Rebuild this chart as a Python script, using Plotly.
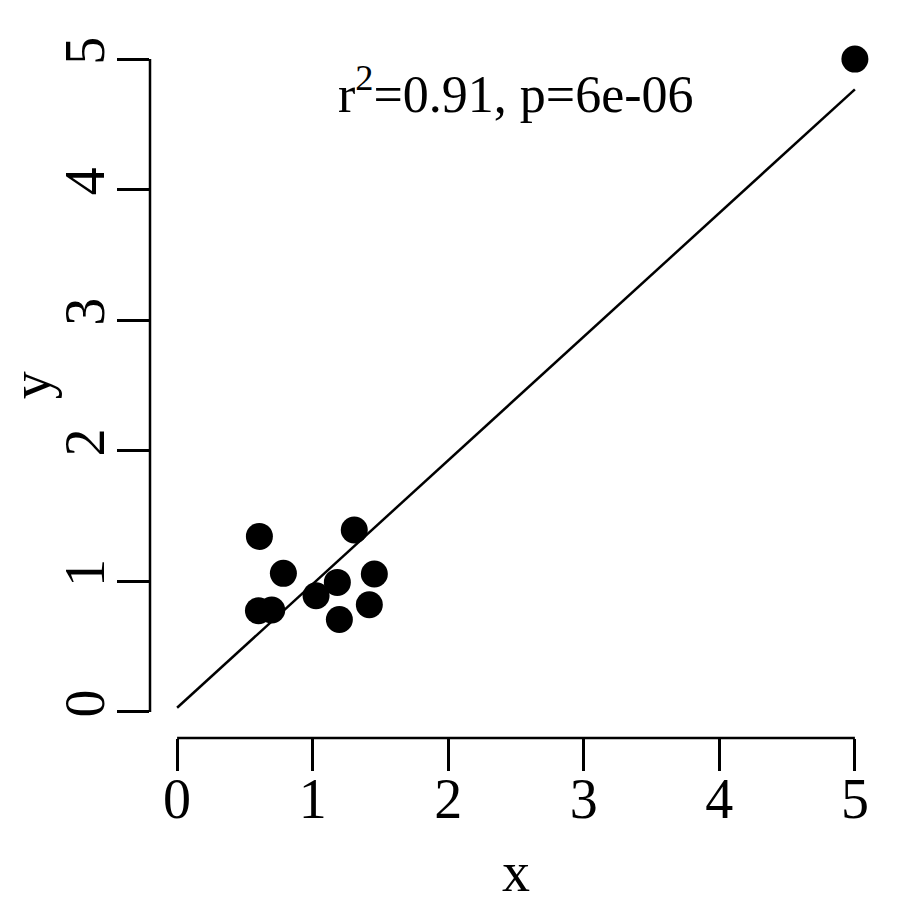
import numpy as np
import plotly.graph_objects as go

# Data
x_vals = [0.607, 0.784, 1.307, 1.455, 1.182, 1.025, 0.600, 0.698, 1.197, 1.418, 5.0]
y_vals = [1.344, 1.061, 1.393, 1.056, 0.992, 0.890, 0.775, 0.780, 0.708, 0.821, 5.0]
tick_vals = [0, 1, 2, 3, 4, 5]
annot_text = "r<sup>2</sup>=0.91, p=6e-06"
x_title = "x"
y_title = "y"

x = np.array(x_vals)
y = np.array(y_vals)
slope, intercept = np.polyfit(x, y, 1)
line_x = np.array([0, x.max()])
line_y = intercept + slope * line_x

FONT = "Liberation Serif"
FS = 56

fig = go.Figure()
fig.add_trace(go.Scatter(x=line_x, y=line_y, mode="lines",
                         line=dict(color="black", width=2.5),
                         showlegend=False, hoverinfo="skip"))
fig.add_trace(go.Scatter(x=x, y=y, mode="markers",
                         marker=dict(color="black", size=27, line=dict(width=0)),
                         showlegend=False))

axis_common = dict(range=[-0.2, 5.2], showgrid=False, zeroline=False, showline=False,
                   automargin=False,
                   ticks="outside", ticklen=32, tickwidth=2.5, tickcolor="black",
                   tickvals=tick_vals, tickfont=dict(family=FONT, size=FS, color="black"))

fig.update_xaxes(**axis_common, ticklabelstandoff=-20)
fig.update_yaxes(**axis_common, tickangle=-90, ticklabelstandoff=-9)

# Detached R-style axis lines spanning only the tick range
fig.add_shape(type="line", xref="x", yref="paper", x0=tick_vals[0], x1=tick_vals[-1],
              y0=0, y1=0, line=dict(color="black", width=2.5))
fig.add_shape(type="line", xref="paper", yref="y", x0=0, x1=0,
              y0=tick_vals[0], y1=tick_vals[-1], line=dict(color="black", width=2.5))

fig.add_annotation(x=2.5, y=4.76, xref="x", yref="y", text=annot_text, showarrow=False,
                   font=dict(family=FONT, size=52, color="black"),
                   xanchor="center", yanchor="middle")

# axis titles
fig.add_annotation(x=2.5, y=-0.19, xref="x", yref="paper", text=x_title, showarrow=False,
                   font=dict(family=FONT, size=FS, color="black"),
                   xanchor="center", yanchor="middle")
fig.add_annotation(x=-0.163, y=2.5, xref="paper", yref="y", text=y_title, showarrow=False,
                   textangle=-90, font=dict(family=FONT, size=FS, color="black"),
                   xanchor="center", yanchor="middle")

# the page body has an 8px margin, so margins compensate for it
fig.update_layout(width=900, height=900, plot_bgcolor="white", paper_bgcolor="white",
                  margin=dict(l=142, r=26, t=25, b=170, pad=0))

fig.write_html("out.html")
